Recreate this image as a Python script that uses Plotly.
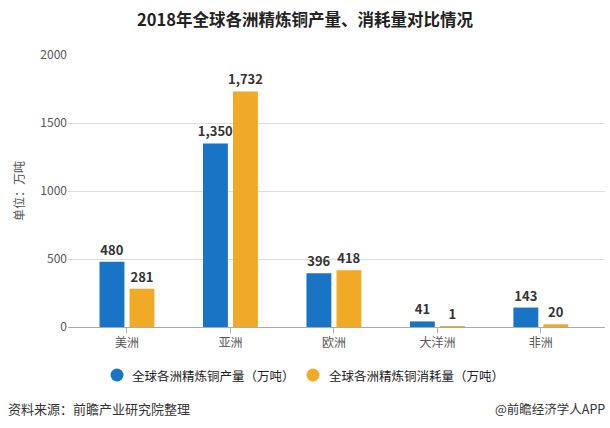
import plotly.graph_objects as go

# 各洲精炼铜产量与消耗量（万吨）
regions = ["美洲", "亚洲", "欧洲", "大洋洲", "非洲"]
production = [480, 1350, 396, 41, 143]
consumption = [281, 1732, 418, 1, 20]
y_ticks = [0, 500, 1000, 1500, 2000]

FONT = "Noto Sans CJK SC"
BLUE = "#1a74c5"
ORANGE = "#f0aa26"

series = [
    ("全球各洲精炼铜产量（万吨）", production, BLUE),
    ("全球各洲精炼铜消耗量（万吨）", consumption, ORANGE),
]

# 绘图区像素位置，用于把页面像素换算成 paper 坐标
L, T, W, H = 68, 55, 537, 272


def px(x):
    return (x - L) / W


def py(y):
    return (T + H - y) / H


fig = go.Figure()
for name, vals, color in series:
    fig.add_trace(go.Bar(
        x=regions, y=vals, name=name, showlegend=False,
        marker=dict(color=color, line_width=0),
        texttemplate="<b>%{y:,}</b>", textposition="outside",
        constraintext="none",
        textfont=dict(size=13, color="#333333", family=FONT),
        cliponaxis=False,
    ))

fig.update_layout(
    width=610, height=428,
    margin=dict(l=L, r=610 - L - W, t=T, b=428 - T - H, autoexpand=False),
    paper_bgcolor="white", plot_bgcolor="white",
    font=dict(family=FONT, color="#333333"),
    barmode="group", bargap=0.42, bargroupgap=0.17,
    title=dict(text="<b>2018年全球各洲精炼铜产量、消耗量对比情况</b>",
               x=0.5, xanchor="center", y=1 - 20 / 428, yanchor="middle",
               font=dict(size=16.5, color="#222222")),
    showlegend=False,
)
fig.update_xaxes(
    range=[-0.57, 4.62], showgrid=False,
    showline=True, linecolor="#aaaaaa", linewidth=1,
    ticks="outside", ticklen=5, tickcolor="#aaaaaa",
    tickfont=dict(size=12, color="#555555"),
)
fig.update_yaxes(
    range=[0, 2000], tickvals=y_ticks,
    showgrid=True, gridcolor="#dddddd", gridwidth=1,
    zeroline=False, showline=False,
    tickfont=dict(size=12, color="#555555"),
    automargin=False,
)

# 图例：圆点 + 文字
for (name, _, color), cx, tx in zip(series, [117, 313], [130, 327]):
    fig.add_shape(type="circle", xref="paper", yref="paper",
                  xsizemode="pixel", ysizemode="pixel",
                  xanchor=px(cx), yanchor=py(375),
                  x0=-6.5, x1=6.5, y0=-6.5, y1=6.5,
                  fillcolor=color, line_width=0)
    fig.add_annotation(text=name, xref="paper", yref="paper",
                       x=px(tx), y=py(375), xanchor="left", yanchor="middle",
                       showarrow=False, font=dict(size=12.5, color="#222222"))

fig.add_annotation(text="单位：万吨", xref="paper", yref="paper",
                   x=px(18), y=py(191), textangle=-90,
                   xanchor="center", yanchor="middle", showarrow=False,
                   font=dict(size=12, color="#555555"))
fig.add_annotation(text="资料来源：前瞻产业研究院整理", xref="paper", yref="paper",
                   x=px(6), y=py(408), xanchor="left", yanchor="middle",
                   showarrow=False, font=dict(size=13, color="#333333"))
fig.add_annotation(text="@前瞻经济学人APP", xref="paper", yref="paper",
                   x=px(607), y=py(408), xanchor="right", yanchor="middle",
                   showarrow=False, font=dict(size=12.5, color="#333333"))

fig.write_html("out.html", config={"displayModeBar": False},
               post_script="document.body.style.margin='0';")
